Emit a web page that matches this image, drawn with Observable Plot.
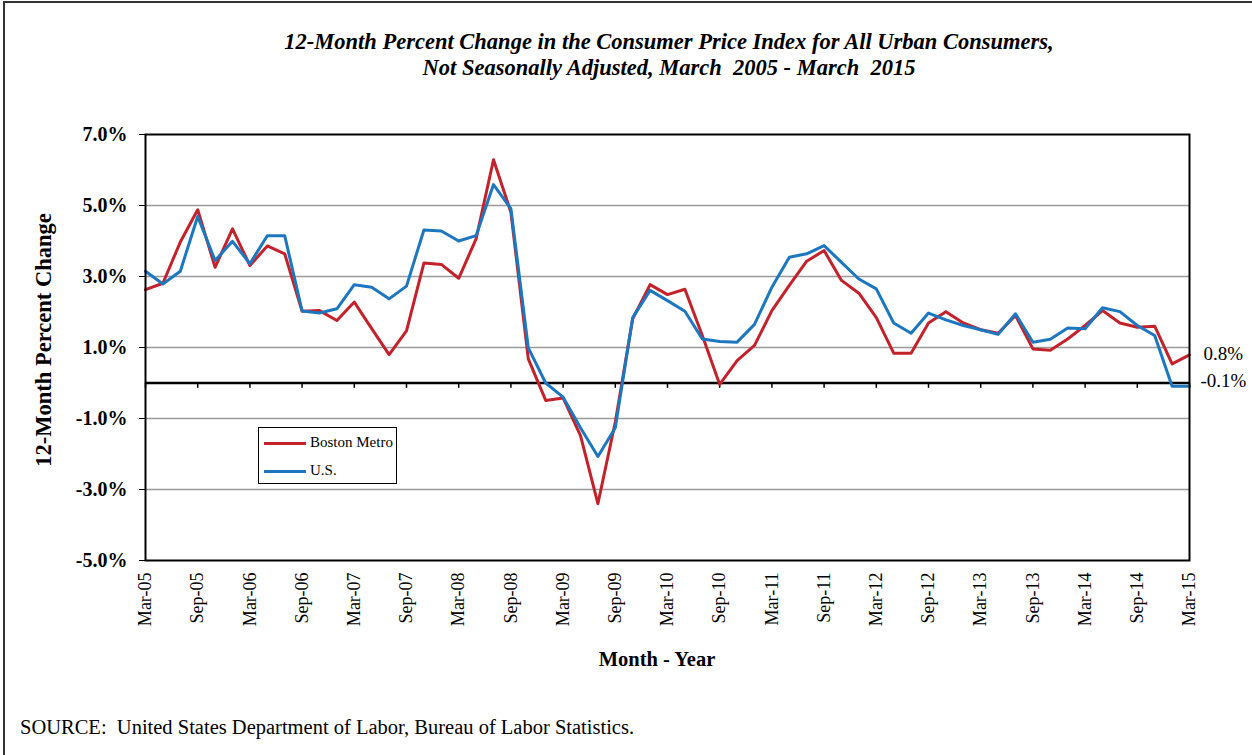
<!DOCTYPE html>
<html>
<head>
<meta charset="utf-8">
<script src="https://cdn.jsdelivr.net/npm/d3@7"></script>
<script src="https://cdn.jsdelivr.net/npm/@observablehq/plot@0.6"></script>
<style>
  html, body { margin: 0; padding: 0; background: #fff; }
  #page { position: relative; width: 1252px; height: 755px; overflow: hidden; background: #fff;
          font-family: "Liberation Serif", "Times New Roman", serif; color: #000; }
  #frame { position: absolute; left: 3px; top: 1px; width: 1300px; height: 800px; border: 2px solid #333; box-sizing: border-box; }
  #chart { position: absolute; left: 0; top: 0; }
  #title { position: absolute; left: 269px; width: 800px; top: 29px; text-align: center;
           font-weight: bold; font-style: italic; font-size: 22.5px; line-height: 26px; }
  #ylabel { position: absolute; left: -156px; width: 400px; top: 327px; height: 26px; line-height: 26px;
            text-align: center; font-weight: bold; font-size: 22.5px; transform: rotate(-90deg); }
  #xlabel { position: absolute; left: 457px; width: 400px; top: 646px; line-height: 26px;
            text-align: center; font-weight: bold; font-size: 20.5px; }
  #source { position: absolute; left: 20px; top: 715px; font-size: 20.5px; line-height: 24px; }
  #legend { position: absolute; left: 258px; top: 427px; width: 139px; height: 57px; border: 1px solid #000;
            box-sizing: border-box; background: #fff; font-size: 15px; }
  .lg { position: absolute; left: 5px; height: 20px; line-height: 20px; }
  .lg span.sw { display: inline-block; width: 42px; height: 3px; vertical-align: middle; margin-right: 4px; }
</style>
</head>
<body>
<div id="page">
  <div id="frame"></div>
  <div id="chart"></div>
  <div id="title">12-Month Percent Change in the Consumer Price Index for All Urban Consumers,<br>Not Seasonally Adjusted, March&nbsp; 2005 - March&nbsp; 2015</div>
  <div id="ylabel">12-Month Percent Change</div>
  <div id="xlabel">Month - Year</div>
  <div id="legend"></div>
  <div id="source">SOURCE:&nbsp; United States Department of Labor, Bureau of Labor Statistics.</div>
</div>
<script>
const months = ["Mar-05","May-05","Jul-05","Sep-05","Nov-05","Jan-06","Mar-06","May-06","Jul-06","Sep-06","Nov-06",
  "Jan-07","Mar-07","May-07","Jul-07","Sep-07","Nov-07","Jan-08","Mar-08","May-08","Jul-08","Sep-08","Nov-08",
  "Jan-09","Mar-09","May-09","Jul-09","Sep-09","Nov-09","Jan-10","Mar-10","May-10","Jul-10","Sep-10","Nov-10",
  "Jan-11","Mar-11","May-11","Jul-11","Sep-11","Nov-11","Jan-12","Mar-12","May-12","Jul-12","Sep-12","Nov-12",
  "Jan-13","Mar-13","May-13","Jul-13","Sep-13","Nov-13","Jan-14","Mar-14","May-14","Jul-14","Sep-14","Nov-14",
  "Jan-15","Mar-15"];

const boston = [2.63,2.81,3.97,4.88,3.26,4.34,3.31,3.86,3.64,2.02,2.04,
  1.76,2.28,1.53,0.80,1.47,3.38,3.34,2.95,4.06,6.29,4.81,0.68,
  -0.49,-0.42,-1.48,-3.40,-1.10,1.81,2.77,2.49,2.64,1.34,-0.04,0.63,
  1.06,2.04,2.75,3.43,3.73,2.89,2.53,1.84,0.84,0.84,1.69,2.01,
  1.69,1.50,1.40,1.90,0.96,0.92,1.24,1.62,2.04,1.69,1.57,1.60,
  0.54,0.79];

const us = [3.15,2.79,3.15,4.69,3.45,3.99,3.36,4.15,4.15,2.03,1.97,
  2.09,2.77,2.70,2.37,2.73,4.31,4.28,4.00,4.15,5.59,4.91,0.99,
  0.00,-0.40,-1.26,-2.07,-1.26,1.84,2.61,2.32,2.02,1.24,1.17,1.15,
  1.65,2.70,3.54,3.64,3.87,3.40,2.93,2.65,1.69,1.40,1.97,1.78,
  1.62,1.50,1.37,1.95,1.15,1.23,1.55,1.53,2.12,2.01,1.62,1.34,
  -0.09,-0.09];

const xTickLabels = ["Mar-05","Sep-05","Mar-06","Sep-06","Mar-07","Sep-07","Mar-08","Sep-08","Mar-09","Sep-09","Mar-10",
  "Sep-10","Mar-11","Sep-11","Mar-12","Sep-12","Mar-13","Sep-13","Mar-14","Sep-14","Mar-15"];
const yTicks = [7, 5, 3, 1, -1, -3, -5];
const gridValues = [5, 3, 1, -1, -3];
const seriesNames = ["Boston Metro", "U.S."];
const seriesColors = ["#c4222b", "#1c77c0"];

// category index position (evenly spaced, like a category axis)
const data = months.map((m, i) => ({i, month: m, boston: boston[i], us: us[i]}));
const xTickIdx = xTickLabels.map(l => months.indexOf(l));
const last = data[data.length - 1];
const fmt = v => v.toFixed(1) + "%";

const chart = Plot.plot({
  width: 1252,
  height: 700,
  marginLeft: 145,
  marginRight: 63,
  marginTop: 134,
  marginBottom: 140,
  style: {fontFamily: "'Liberation Serif', 'Times New Roman', serif", fontSize: "17px", background: "transparent", color: "#000", overflow: "visible"},
  x: {type: "linear", domain: [0, months.length - 1]},
  y: {domain: [-5, 7]},
  marks: [
    Plot.ruleY(gridValues, {stroke: "#9a9a9a", strokeWidth: 1.5}),
    Plot.ruleY([0], {stroke: "#000", strokeWidth: 2.5}),
    Plot.ruleX(xTickIdx, {x: d => d, y1: 0, y2: -0.15, stroke: "#000", strokeWidth: 1.5}),
    Plot.line(data, {x: "i", y: "boston", stroke: seriesColors[0], strokeWidth: 3}),
    Plot.line(data, {x: "i", y: "us", stroke: seriesColors[1], strokeWidth: 3}),
    Plot.frame({stroke: "#000", strokeWidth: 2}),
    Plot.axisY({ticks: yTicks, tickFormat: () => "", tickSize: 6, label: null}),
    Plot.text(yTicks, {y: d => d, text: fmt, frameAnchor: "left", textAnchor: "end", dx: -18, fontSize: 20, fontWeight: "bold"}),
    Plot.axisX({ticks: xTickIdx, tickFormat: d => months[d], tickSize: 0, tickRotate: -90, tickPadding: 12, fontSize: 18, label: null}),
    Plot.text([last], {x: "i", y: "boston", text: d => fmt(d.boston), textAnchor: "start", dx: 14, dy: -1, fontSize: 19}),
    Plot.text([last], {x: "i", y: "us", text: d => fmt(d.us), textAnchor: "start", dx: 11, dy: -5, fontSize: 19})
  ]
});
document.getElementById("chart").appendChild(chart);

const legend = document.getElementById("legend");
seriesNames.forEach((name, i) => {
  const row = document.createElement("div");
  row.className = "lg";
  row.style.top = (i === 0 ? 4 : 32) + "px";
  row.innerHTML = `<span class="sw" style="background:${seriesColors[i]}"></span>${name}`;
  legend.appendChild(row);
});
</script>
</body>
</html>
